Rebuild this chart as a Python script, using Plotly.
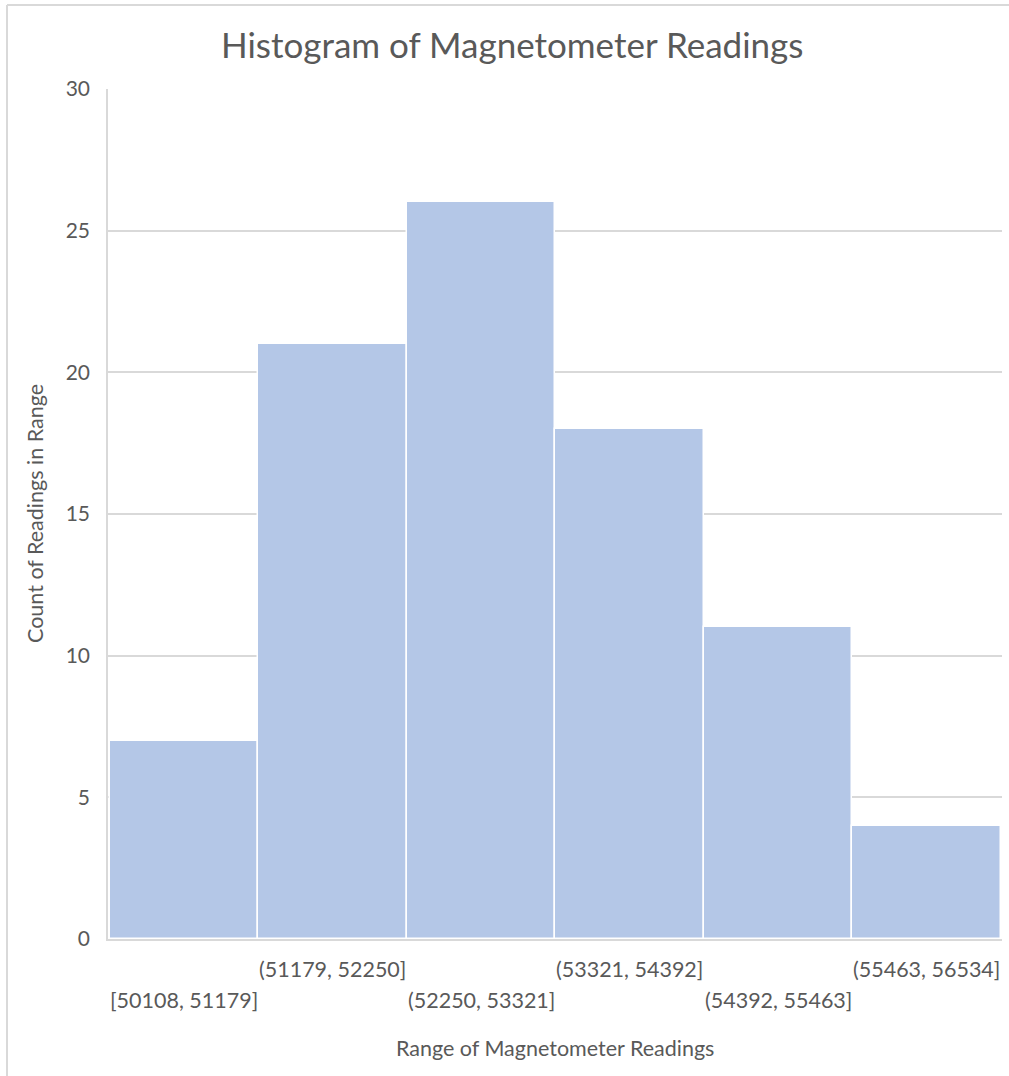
import plotly.graph_objects as go

bins = ["[50108, 51179]", "(51179, 52250]", "(52250, 53321]",
        "(53321, 54392]", "(54392, 55463]", "(55463, 56534]"]
counts = [7, 21, 26, 18, 11, 4]
y_ticks = [0, 5, 10, 15, 20, 25, 30]

title_text = "Histogram of Magnetometer Readings"
x_title = "Range of Magnetometer Readings"
y_title = "Count of Readings in Range"

FONT = "Lato"
GREY = "#595959"
GRID = "#D9D9D9"

W, H = 1009, 1076
L, R, T, B = 108, 7, 89, 137
pw = W - L - R
ph = H - T - B


def py(pix):
    return (H - B - pix) / ph


def px(pix):
    return (pix - L) / pw


fig = go.Figure()
fig.add_trace(go.Bar(
    x=bins, y=counts,
    marker=dict(color="#B4C7E7", line=dict(color="white", width=1.5)),
    hoverinfo="x+y",
))

annotations = []
for i, b in enumerate(bins):
    annotations.append(dict(
        x=b, xref="x", y=py(969 if i % 2 == 1 else 1000), yref="paper",
        text=b, showarrow=False, xanchor="center", yanchor="middle",
        font=dict(family=FONT, size=21.5, color=GREY),
    ))
annotations.append(dict(
    x=px(555), xref="paper", y=py(1048), yref="paper", text=x_title,
    showarrow=False, xanchor="center", yanchor="middle",
    font=dict(family=FONT, size=21.5, color=GREY),
))
annotations.append(dict(
    x=px(35), xref="paper", y=py(514), yref="paper", text=y_title, textangle=-90,
    showarrow=False, xanchor="center", yanchor="middle",
    font=dict(family=FONT, size=21.5, color=GREY),
))
annotations.append(dict(
    x=px(512), xref="paper", y=py(44), yref="paper", text=title_text,
    showarrow=False, xanchor="center", yanchor="middle",
    font=dict(family=FONT, size=35, color=GREY),
))

border = dict(color=GRID, width=2)
fig.update_layout(
    width=W, height=H,
    margin=dict(l=L, r=R, t=T, b=B, autoexpand=False),
    paper_bgcolor="white", plot_bgcolor="white",
    bargap=0, showlegend=False,
    annotations=annotations,
    shapes=[
        dict(type="line", xref="paper", yref="paper",
             x0=px(7), x1=px(7), y0=py(1100), y1=py(5), line=border, layer="below"),
        dict(type="line", xref="paper", yref="paper",
             x0=px(7), x1=px(1009), y0=py(5), y1=py(5), line=border, layer="below"),
    ],
)
fig.update_xaxes(showticklabels=False, showgrid=False, showline=True,
                 linecolor=GRID, linewidth=1.5, ticks="", zeroline=False)
fig.update_yaxes(range=[0, 30], tickvals=y_ticks, showgrid=True,
                 gridcolor=GRID, gridwidth=1.5, showline=True,
                 linecolor=GRID, linewidth=1.5, zeroline=False, ticks="",
                 ticklabelstandoff=12,
                 tickfont=dict(family=FONT, size=21, color=GREY))

fig.write_html(
    "out.html",
    config={"displayModeBar": False},
    post_script="document.body.style.margin='0';document.body.style.overflow='hidden';",
)
